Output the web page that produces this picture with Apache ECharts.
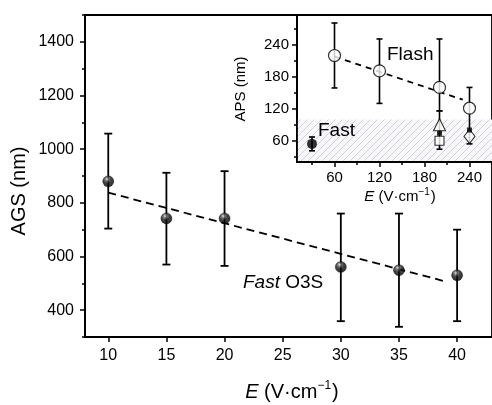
<!DOCTYPE html>
<html>
<head>
<meta charset="utf-8">
<script src="https://cdn.jsdelivr.net/npm/echarts@6/dist/echarts.min.js"></script>
<style>html,body{margin:0;padding:0;background:#fff}#c{width:492px;height:405px}</style>
</head>
<body>
<div id="c"></div>
<script>
// ---- Main plot data (Fast O3S) ----
const mainE = [10, 15, 20, 30, 35, 40];
const mainAGS = [880, 742, 742, 561, 549, 530];
const mainLow = [704, 570, 565, 359, 338, 359];
const mainHigh = [1058, 912, 918, 760, 760, 700];
const mainFitX = [10, 39];
const mainFitY = [838, 507];
const mainXTicks = [10, 15, 20, 25, 30, 35, 40];
const mainYTicks = [400, 600, 800, 1000, 1200, 1400];
const mainYMinor = [300, 500, 700, 900, 1100, 1300, 1500];

// ---- Inset data ----
const flashE = [60, 120, 200, 240];
const flashAPS = [220, 191, 160, 121];
const flashLow = [159, 130, 116, 54];
const flashHigh = [281, 251, 251, 160];
const flashFitX = [60, 231];
const flashFitY = [218, 137];
const fastE = [30];
const fastAPS = [54];
const fastLow = [41];
const fastHigh = [67];
const triE = [200], triAPS = [90], triLow = [44], triHigh = [116];
const sqFilledE = [200, 240], sqFilledAPS = [74, 80];
const sqOpenE = [200], sqOpenAPS = [60];
const diaE = [240], diaAPS = [68];
const hatchX = [10, 270];
const hatchY = [20, 100];
const insetXTicks = [60, 120, 180, 240];
const insetXMinor = [30, 90, 150, 210, 270];
const insetYTicks = [60, 120, 180, 240];
const insetYMinor = [30, 90, 150, 210, 270];

const FONT = '"Liberation Sans", Arial, Helvetica, sans-serif';
const chart = echarts.init(document.getElementById('c'), null, {renderer: 'canvas'});

function zip(a, b) { return a.map((v, i) => [v, b[i]]); }
function errData(x, lo, hi) { return x.map((v, i) => [v, lo[i], hi[i]]); }

function errSeries(data, xi, yi, cap, lw, z) {
  return {
    type: 'custom', xAxisIndex: xi, yAxisIndex: yi, z: z, silent: true,
    data: data,
    encode: {x: 0, y: [1, 2]},
    renderItem: function (params, api) {
      const x = api.value(0), lo = api.value(1), hi = api.value(2);
      const p1 = api.coord([x, lo]), p2 = api.coord([x, hi]);
      const st = {stroke: '#000', lineWidth: lw};
      return {type: 'group', children: [
        {type: 'line', shape: {x1: p1[0], y1: p1[1], x2: p2[0], y2: p2[1]}, style: st},
        {type: 'line', shape: {x1: p1[0] - cap, y1: p1[1], x2: p1[0] + cap, y2: p1[1]}, style: st},
        {type: 'line', shape: {x1: p2[0] - cap, y1: p2[1], x2: p2[0] + cap, y2: p2[1]}, style: st}
      ]};
    }
  };
}

// hatch pattern
const P = 7;
const pc = document.createElement('canvas');
pc.width = P; pc.height = P;
const g = pc.getContext('2d');
g.fillStyle = '#f8f8fb'; g.fillRect(0, 0, P, P);
g.strokeStyle = '#c8c8dc'; g.lineWidth = 0.8;
g.beginPath();
g.moveTo(0, P); g.lineTo(P, 0);
g.moveTo(-1, 1); g.lineTo(1, -1);
g.moveTo(P - 1, P + 1); g.lineTo(P + 1, P - 1);
g.stroke();

const sphere = new echarts.graphic.RadialGradient(0.4, 0.3, 0.7, [
  {offset: 0, color: '#f0f0f0'},
  {offset: 0.2, color: '#6a6a6a'},
  {offset: 0.5, color: '#111'},
  {offset: 1, color: '#000'}
]);

const axisLineStyle = {show: true, lineStyle: {color: '#000', width: 1.8}};
const fmt = function (v) { return String(v); };

const option = {
  animation: false,
  backgroundColor: '#fff',
  grid: [
    {left: 85, top: 15, width: 408, height: 322, show: true, borderColor: '#000', borderWidth: 1.8, backgroundColor: 'transparent', z: 0},
    {left: 297, top: 15, width: 196, height: 147, show: true, borderColor: '#000', borderWidth: 1.8, backgroundColor: '#fff', z: 5}
  ],
  xAxis: [
    {gridIndex: 0, type: 'value', min: 8, max: 43, position: 'bottom',
     axisLine: axisLineStyle, splitLine: {show: false},
     axisTick: {show: true, inside: false, length: 5, lineStyle: {color: '#000', width: 1.5}, customValues: mainXTicks},
     axisLabel: {margin: 11, customValues: mainXTicks, color: '#000', fontFamily: FONT, fontSize: 16, formatter: fmt}},
    {gridIndex: 1, type: 'value', min: 10, max: 270, position: 'bottom', z: 6,
     axisLine: axisLineStyle, splitLine: {show: false},
     axisTick: {show: true, inside: false, length: 5, lineStyle: {color: '#000', width: 1.5}, customValues: insetXTicks},
     axisLabel: {margin: 8, customValues: insetXTicks, color: '#000', fontFamily: FONT, fontSize: 15, formatter: fmt}},
    {gridIndex: 1, type: 'value', min: 10, max: 270, position: 'bottom', z: 6,
     axisLine: {show: false}, splitLine: {show: false}, axisLabel: {show: false},
     axisTick: {show: true, inside: false, length: 3, lineStyle: {color: '#000', width: 1.5}, customValues: insetXMinor}}
  ],
  yAxis: [
    {gridIndex: 0, type: 'value', min: 300, max: 1500, position: 'left',
     axisLine: axisLineStyle, splitLine: {show: false},
     axisTick: {show: true, inside: false, length: 5, lineStyle: {color: '#000', width: 1.5}, customValues: mainYTicks},
     axisLabel: {margin: 11, customValues: mainYTicks, color: '#000', fontFamily: FONT, fontSize: 16, formatter: fmt}},
    {gridIndex: 0, type: 'value', min: 300, max: 1500, position: 'left',
     axisLine: {show: false}, splitLine: {show: false}, axisLabel: {show: false},
     axisTick: {show: true, inside: false, length: 3, lineStyle: {color: '#000', width: 1.5}, customValues: mainYMinor}},
    {gridIndex: 1, type: 'value', min: 20, max: 296, position: 'left', z: 6,
     axisLine: axisLineStyle, splitLine: {show: false},
     axisTick: {show: true, inside: false, length: 5, lineStyle: {color: '#000', width: 1.5}, customValues: insetYTicks},
     axisLabel: {margin: 8, customValues: insetYTicks, color: '#000', fontFamily: FONT, fontSize: 15, formatter: fmt}},
    {gridIndex: 1, type: 'value', min: 20, max: 296, position: 'left', z: 6,
     axisLine: {show: false}, splitLine: {show: false}, axisLabel: {show: false},
     axisTick: {show: true, inside: false, length: 3, lineStyle: {color: '#000', width: 1.5}, customValues: insetYMinor}}
  ],
  series: [
    // main plot
    {type: 'line', xAxisIndex: 0, yAxisIndex: 0, z: 2, silent: true, symbol: 'none',
     data: zip(mainFitX, mainFitY), lineStyle: {color: '#000', width: 1.8, type: [8, 5]}},
    errSeries(errData(mainE, mainLow, mainHigh), 0, 0, 4, 1.8, 3),
    {type: 'scatter', xAxisIndex: 0, yAxisIndex: 0, z: 4, silent: true, symbol: 'circle', symbolSize: 11,
     data: zip(mainE, mainAGS), itemStyle: {color: sphere, borderColor: '#000', borderWidth: 0.5}},
    // inset hatched band
    {type: 'custom', xAxisIndex: 1, yAxisIndex: 2, z: 6, silent: true,
     data: [[hatchX[0], hatchY[0], hatchX[1], hatchY[1]]],
     renderItem: function (params, api) {
       const a = api.coord([api.value(0), api.value(1)]);
       const b = api.coord([api.value(2), api.value(3)]);
       return {type: 'rect', shape: {x: a[0], y: b[1], width: b[0] - a[0], height: a[1] - b[1]},
               style: {fill: {image: pc, repeat: 'repeat'}, stroke: null}};
     }},
    {type: 'line', xAxisIndex: 1, yAxisIndex: 2, z: 7, silent: true, symbol: 'none',
     data: zip(flashFitX, flashFitY), lineStyle: {color: '#000', width: 1.8, type: [6, 5]}},
    errSeries(errData(flashE, flashLow, flashHigh), 1, 2, 3, 1.6, 8),
    errSeries(errData(triE, triLow, triHigh), 1, 2, 3, 1.6, 8),
    errSeries(errData(fastE, fastLow, fastHigh), 1, 2, 3, 1.6, 8),
    {type: 'scatter', xAxisIndex: 1, yAxisIndex: 2, z: 9, silent: true, symbol: 'circle', symbolSize: 12,
     data: zip(flashE, flashAPS), itemStyle: {color: '#fff', borderColor: '#000', borderWidth: 1.2}},
    {type: 'scatter', xAxisIndex: 1, yAxisIndex: 2, z: 9, silent: true, symbol: 'circle', symbolSize: 10,
     data: zip(fastE, fastAPS), itemStyle: {color: '#000'}},
    {type: 'scatter', xAxisIndex: 1, yAxisIndex: 2, z: 9, silent: true, symbol: 'triangle', symbolSize: 12,
     data: zip(triE, triAPS), itemStyle: {color: '#fff', borderColor: '#000', borderWidth: 1.1}},
    {type: 'scatter', xAxisIndex: 1, yAxisIndex: 2, z: 9, silent: true, symbol: 'rect', symbolSize: 9,
     data: zip(sqOpenE, sqOpenAPS), itemStyle: {color: '#fff', borderColor: '#000', borderWidth: 1.1}},
    {type: 'scatter', xAxisIndex: 1, yAxisIndex: 2, z: 9, silent: true, symbol: 'diamond', symbolSize: [11, 14],
     data: zip(diaE, diaAPS), itemStyle: {color: '#fff', borderColor: '#000', borderWidth: 1.1}},
    {type: 'scatter', xAxisIndex: 1, yAxisIndex: 2, z: 10, silent: true, symbol: 'rect', symbolSize: 5,
     data: zip(sqFilledE, sqFilledAPS), itemStyle: {color: '#000'}}
  ],
  graphic: [
    {type: 'text', x: 19, y: 191, rotation: Math.PI / 2, z: 20,
     style: {text: 'AGS (nm)', fill: '#000', font: '20px ' + FONT, align: 'center', verticalAlign: 'middle'}},
    {type: 'text', x: 292, y: 392, z: 20,
     style: {text: '{i|E}{n| (V·cm}{s|−1}{n|)}', fill: '#000', font: '20px ' + FONT, align: 'center', verticalAlign: 'middle',
       rich: {i: {fontStyle: 'italic', fontSize: 20, fontFamily: FONT, lineHeight: 24},
              n: {fontSize: 20, fontFamily: FONT, lineHeight: 24},
              s: {fontSize: 12, fontFamily: FONT, lineHeight: 12, padding: [0, 1, 12, 0]}}}},
    {type: 'text', x: 243, y: 283, z: 20,
     style: {text: '{i|Fast} O3S', fill: '#000', font: '19px ' + FONT, align: 'left', verticalAlign: 'middle',
       rich: {i: {fontStyle: 'italic', fontSize: 19, fontFamily: FONT}}}},
    {type: 'text', x: 241, y: 89, rotation: Math.PI / 2, z: 20,
     style: {text: 'APS (nm)', fill: '#000', font: '15px ' + FONT, align: 'center', verticalAlign: 'middle'}},
    {type: 'text', x: 400, y: 197, z: 20,
     style: {text: '{i|E}{n| (V·cm}{s|−1}{n|)}', fill: '#000', font: '15px ' + FONT, align: 'center', verticalAlign: 'middle',
       rich: {i: {fontStyle: 'italic', fontSize: 15, fontFamily: FONT, lineHeight: 18},
              n: {fontSize: 15, fontFamily: FONT, lineHeight: 18},
              s: {fontSize: 10, fontFamily: FONT, lineHeight: 10, padding: [0, 1, 9, 0]}}}},
    {type: 'text', x: 387, y: 55, z: 20,
     style: {text: 'Flash', fill: '#000', font: '19px ' + FONT, align: 'left', verticalAlign: 'middle'}},
    {type: 'text', x: 318, y: 131, z: 20,
     style: {text: 'Fast', fill: '#000', font: '19px ' + FONT, align: 'left', verticalAlign: 'middle'}}
  ]
};
chart.setOption(option);
</script>
</body>
</html>
